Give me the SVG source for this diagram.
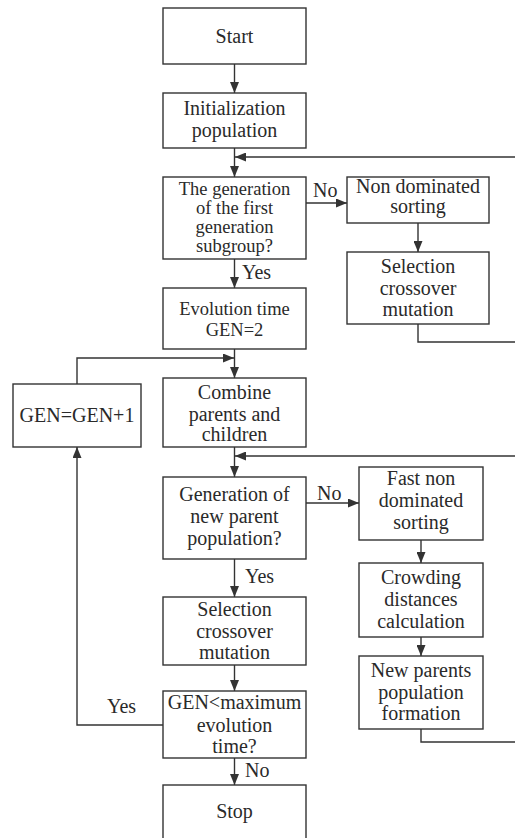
<svg xmlns="http://www.w3.org/2000/svg" width="515" height="838" viewBox="0 0 515 838">
<style>
.fbox{fill:#fff;stroke:#333;stroke-width:1.4}
.ftxt{font-family:'Liberation Serif',serif;font-size:20px;fill:#2a2a2a;text-anchor:middle}
.fsm{font-size:18.5px}
.flbl{font-family:'Liberation Serif',serif;font-size:20px;fill:#2a2a2a}
.fconn{fill:none;stroke:#333;stroke-width:1.4}
</style>
<defs>
<marker id="ah" markerUnits="userSpaceOnUse" markerWidth="11" markerHeight="9" refX="11" refY="4.5" orient="auto">
<path d="M0,0 L11,4.5 L0,9 z" fill="#333"/>
</marker>
</defs>
<rect width="515" height="838" fill="#fff"/>
<g id="connectors">
<path class="fconn" d="M234.5,64 V93" marker-end="url(#ah)"/>
<path class="fconn" d="M234.5,148 V177" marker-end="url(#ah)"/>
<path class="fconn" d="M515,157 H235" marker-end="url(#ah)"/>
<path class="fconn" d="M418,324 V342 H515"/>
<path class="fconn" d="M306,203 H347" marker-end="url(#ah)"/>
<path class="fconn" d="M418,223 V252" marker-end="url(#ah)"/>
<path class="fconn" d="M234.5,259 V288" marker-end="url(#ah)"/>
<path class="fconn" d="M234.5,349 V378" marker-end="url(#ah)"/>
<path class="fconn" d="M77,384 V358 H234" marker-end="url(#ah)"/>
<path class="fconn" d="M234.5,447 V477" marker-end="url(#ah)"/>
<path class="fconn" d="M515,456 H235" marker-end="url(#ah)"/>
<path class="fconn" d="M306,503 H359" marker-end="url(#ah)"/>
<path class="fconn" d="M421,540 V563" marker-end="url(#ah)"/>
<path class="fconn" d="M421,637 V656" marker-end="url(#ah)"/>
<path class="fconn" d="M421,729 V742 H515"/>
<path class="fconn" d="M234.5,559 V597" marker-end="url(#ah)"/>
<path class="fconn" d="M234.5,665 V691" marker-end="url(#ah)"/>
<path class="fconn" d="M163,725 H77 V447" marker-end="url(#ah)"/>
<path class="fconn" d="M234.5,758 V785" marker-end="url(#ah)"/>
<text class="flbl" x="313" y="197">No</text>
<text class="flbl" x="242" y="279">Yes</text>
<text class="flbl" x="317" y="500">No</text>
<text class="flbl" x="245" y="583">Yes</text>
<text class="flbl" x="107" y="713">Yes</text>
<text class="flbl" x="245" y="777">No</text>
</g>
<g id="start"><rect class="fbox" x="163" y="8" width="143" height="56"/><text class="ftxt" x="234.5" y="43">Start</text></g>
<g id="init"><rect class="fbox" x="163" y="93" width="143" height="55"/><text class="ftxt" x="234.5" y="115">Initialization</text><text class="ftxt" x="234.5" y="137">population</text></g>
<g id="decision1"><rect class="fbox" x="163" y="177" width="143" height="82"/><text class="ftxt fsm" x="234.5" y="195">The generation</text><text class="ftxt fsm" x="234.5" y="214">of the first</text><text class="ftxt fsm" x="234.5" y="233">generation</text><text class="ftxt fsm" x="234.5" y="252">subgroup?</text></g>
<g id="nondom"><rect class="fbox" x="347" y="177" width="142" height="46"/><text class="ftxt" x="418" y="193">Non dominated</text><text class="ftxt" x="418" y="213">sorting</text></g>
<g id="selection1"><rect class="fbox" x="347" y="252" width="142" height="72"/><text class="ftxt" x="418" y="273">Selection</text><text class="ftxt" x="418" y="295">crossover</text><text class="ftxt" x="418" y="316">mutation</text></g>
<g id="evolution"><rect class="fbox" x="163" y="288" width="143" height="61"/><text class="ftxt fsm" x="234.5" y="315">Evolution time</text><text class="ftxt fsm" x="234.5" y="336">GEN=2</text></g>
<g id="gen"><rect class="fbox" x="13" y="384" width="128" height="63"/><text class="ftxt" x="77" y="422">GEN=GEN+1</text></g>
<g id="combine"><rect class="fbox" x="163" y="378" width="143" height="69"/><text class="ftxt" x="234.5" y="399">Combine</text><text class="ftxt" x="234.5" y="421">parents and</text><text class="ftxt" x="234.5" y="441">children</text></g>
<g id="decision2"><rect class="fbox" x="163" y="477" width="143" height="82"/><text class="ftxt" x="234.5" y="501">Generation of</text><text class="ftxt" x="234.5" y="523">new parent</text><text class="ftxt" x="234.5" y="545">population?</text></g>
<g id="fast"><rect class="fbox" x="359" y="467" width="124" height="73"/><text class="ftxt" x="421" y="485">Fast non</text><text class="ftxt" x="421" y="507">dominated</text><text class="ftxt" x="421" y="529">sorting</text></g>
<g id="crowding"><rect class="fbox" x="359" y="563" width="124" height="74"/><text class="ftxt" x="421" y="584">Crowding</text><text class="ftxt" x="421" y="606">distances</text><text class="ftxt" x="421" y="628">calculation</text></g>
<g id="selection2"><rect class="fbox" x="163" y="597" width="143" height="68"/><text class="ftxt" x="234.5" y="616">Selection</text><text class="ftxt" x="234.5" y="638">crossover</text><text class="ftxt" x="234.5" y="659">mutation</text></g>
<g id="newparents"><rect class="fbox" x="359" y="656" width="124" height="73"/><text class="ftxt" x="421" y="677">New parents</text><text class="ftxt" x="421" y="699">population</text><text class="ftxt" x="421" y="720">formation</text></g>
<g id="decision3"><rect class="fbox" x="163" y="691" width="143" height="67"/><text class="ftxt" x="234.5" y="709">GEN&lt;maximum</text><text class="ftxt" x="234.5" y="732">evolution</text><text class="ftxt" x="234.5" y="753">time?</text></g>
<g id="stop"><rect class="fbox" x="163" y="785" width="143" height="70"/><text class="ftxt" x="234.5" y="818">Stop</text></g>
</svg>
